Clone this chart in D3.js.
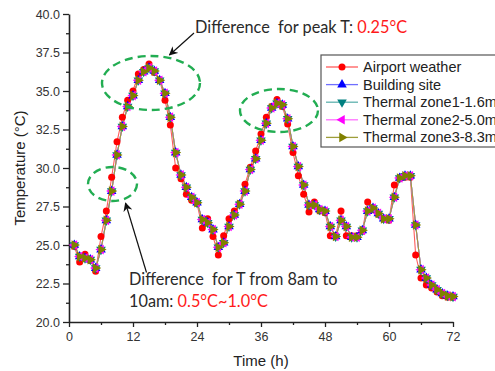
<!DOCTYPE html>
<html>
<head>
<meta charset="utf-8">
<script src="https://cdn.jsdelivr.net/npm/d3@7"></script>
<style>
  body { margin: 0; background: #fff; }
  svg { display: block; }
</style>
</head>
<body>
<div id="chart"></div>
<script>
// Hourly readings, t = 1..72 h
const hours = d3.range(1, 73)

// Airport weather station (red circles)
const airportTemp = [
  24.9, 23.9, 24.4, 24.0, 23.3, 25.55, 27.2, 29.4, 31.7, 33.3, 34.4, 35.0,
  36.1, 36.4, 36.75, 36.2, 35.7, 34.4, 32.8, 30.0, 29.3, 28.3, 27.9, 27.7,
  26.1, 26.7, 25.55, 24.35, 25.6, 26.7, 27.2, 27.7, 28.95, 30.05, 31.1, 32.2,
  33.3, 34.0, 34.45, 34.0, 32.85, 31.0, 29.5, 28.3, 27.15, 27.8, 27.2, 27.1,
  25.6, 25.6, 27.2, 25.6, 25.6, 25.6, 25.9, 27.8, 27.3, 27.0, 26.7, 26.6,
  28.9, 29.3, 29.4, 29.4, 24.35, 22.85, 22.4, 22.2, 21.95, 21.7, 21.6, 21.6
]

// Building site and the three thermal zones: the curves coincide on the chart
const siteTemp = [
  25.0, 24.25, 24.15, 24.05, 23.5, 24.7, 26.6, 28.5, 30.85, 32.7, 34.0, 34.7,
  35.7, 36.25, 36.5, 36.3, 35.7, 34.85, 33.3, 31.0, 29.55, 28.75, 28.1, 27.75,
  26.65, 26.45, 26.0, 24.85, 25.15, 26.2, 26.95, 27.65, 28.5, 29.9, 30.6, 31.8,
  32.9, 33.9, 34.2, 34.1, 33.2, 31.4, 30.1, 28.9, 27.6, 27.6, 27.3, 27.2,
  26.2, 25.55, 26.6, 26.2, 25.5, 25.5, 25.95, 27.2, 27.4, 27.05, 26.7, 26.7,
  28.1, 29.35, 29.5, 29.5, 26.3, 23.4, 22.85, 22.4, 22.1, 21.85, 21.7, 21.65
]
const zone1Temp = siteTemp
const zone2Temp = siteTemp
const zone3Temp = siteTemp

const xTicks = [0, 12, 24, 36, 48, 60, 72]
const yTicks = [20, 22.5, 25, 27.5, 30, 32.5, 35, 37.5, 40]

const width = 495
const height = 371

const svg = d3.select('#chart')
  .append('svg')
  .attr('width', width)
  .attr('height', height)
  .style('font-family', '"Liberation Sans", Arial, sans-serif')

/**
 * Scales.
 */
const x = d3.scaleLinear().domain([0, 72]).range([69, 453])
const y = d3.scaleLinear().domain([20, 40]).range([322, 14])

const tri = d3.symbol().type(d3.symbolTriangle).size(40)
const series = [
  { name: 'Airport weather', values: airportTemp, line: '#ff5c5c', fill: '#ff0000', rot: null },
  { name: 'Building site', values: siteTemp, line: '#6f6fff', fill: '#0000ff', rot: 0 },
  { name: 'Thermal zone1-1.6m', values: zone1Temp, line: '#5fb2ae', fill: '#008080', rot: 180 },
  { name: 'Thermal zone2-5.0m', values: zone2Temp, line: '#ff70ff', fill: '#ff00ff', rot: -90 },
  { name: 'Thermal zone3-8.3m', values: zone3Temp, line: '#9e9e3a', fill: '#808000', rot: 90 }
]

function drawMarker(g, s, cx, cy) {
  if (s.rot == null) {
    g.append('circle').attr('cx', cx).attr('cy', cy).attr('r', 3.5).attr('fill', s.fill)
  } else {
    g.append('path')
      .attr('d', tri)
      .attr('transform', `translate(${cx},${cy}) rotate(${s.rot})`)
      .attr('fill', s.fill)
  }
}

/**
 * Axes.
 */
const xAxis = svg.append('g')
  .attr('transform', `translate(0,${y(20)})`)
  .call(d3.axisBottom(x).tickValues(d3.range(0, 73, 6)).tickSizeInner(5).tickSizeOuter(0)
    .tickFormat(d => xTicks.includes(d) ? d : ''))
xAxis.selectAll('.tick').filter(d => !xTicks.includes(d)).select('line').attr('y2', 3)

const yAxis = svg.append('g')
  .attr('transform', `translate(${x(0)},0)`)
  .call(d3.axisLeft(y).tickValues(d3.range(20, 40.01, 1.25)).tickSizeInner(6).tickSizeOuter(0)
    .tickFormat(d => yTicks.includes(d) ? d3.format('.1f')(d) : ''))
yAxis.selectAll('.tick').filter(d => !yTicks.includes(d)).select('line').attr('x2', -3)

svg.selectAll('.domain').attr('stroke', '#222').attr('stroke-width', 1.6)
svg.selectAll('.tick line').attr('stroke', '#222').attr('stroke-width', 1.3)
svg.selectAll('.tick text').attr('fill', '#333').attr('font-size', 12.5).attr('font-family', '"Liberation Sans", Arial, sans-serif')
xAxis.selectAll('.tick text').attr('dy', '0.9em')

svg.append('text')
  .attr('x', 261).attr('y', 366)
  .attr('text-anchor', 'middle').attr('font-size', 15).attr('fill', '#222')
  .text('Time (h)')
svg.append('text')
  .attr('transform', `translate(25,${y(30)}) rotate(-90)`)
  .attr('text-anchor', 'middle').attr('font-size', 15).attr('fill', '#222')
  .text('Temperature (°C)')

/**
 * Series.
 */
const line = d3.line().x((d, i) => x(hours[i])).y(d => y(d))
series.forEach(s => {
  svg.append('path')
    .attr('d', line(s.values))
    .attr('fill', 'none')
    .attr('stroke', s.line)
    .attr('stroke-width', 1.1)
})
series.forEach(s => {
  const g = svg.append('g')
  s.values.forEach((v, i) => drawMarker(g, s, x(hours[i]), y(v)))
})

/**
 * Annotations.
 */
const green = '#22ad52'
const ellipses = [
  { cx: 151, cy: 83, rx: 49, ry: 27 },
  { cx: 279, cy: 110.5, rx: 39, ry: 21.5 },
  { cx: 112.5, cy: 184, rx: 24.5, ry: 17 }
]
svg.selectAll('.hl')
  .data(ellipses)
  .enter()
  .append('ellipse')
  .attr('cx', d => d.cx).attr('cy', d => d.cy)
  .attr('rx', d => d.rx).attr('ry', d => d.ry)
  .attr('fill', 'none')
  .attr('stroke', green)
  .attr('stroke-width', 2.4)
  .attr('stroke-dasharray', '8,5')

svg.append('defs')
  .append('marker')
  .attr('id', 'arrowhead')
  .attr('viewBox', '0 0 10 10')
  .attr('refX', 9).attr('refY', 5)
  .attr('markerWidth', 9).attr('markerHeight', 9)
  .attr('markerUnits', 'userSpaceOnUse')
  .attr('orient', 'auto')
  .append('path')
  .attr('d', 'M 0 0 L 10 5 L 0 10 L 3 5 z')
  .attr('fill', '#111')

const arrows = [
  [194, 33, 169.5, 55],
  [146.5, 272.5, 125.5, 203]
]
arrows.forEach(a => {
  svg.append('line')
    .attr('x1', a[0]).attr('y1', a[1]).attr('x2', a[2]).attr('y2', a[3])
    .attr('stroke', '#111').attr('stroke-width', 1.2)
    .attr('marker-end', 'url(#arrowhead)')
})

const annFont = 'Lato, "Open Sans", sans-serif'
const t1 = svg.append('text').attr('x', 195).attr('y', 33)
  .attr('font-family', annFont).attr('font-size', 16.3).attr('fill', '#2a2a2a')
t1.append('tspan').text('Difference  for peak T: ').attr('xml:space', 'preserve')
t1.append('tspan').attr('fill', '#ff1a1a').text('0.25°C')

svg.append('text').attr('x', 129).attr('y', 285)
  .attr('font-family', annFont).attr('font-size', 16.3).attr('fill', '#2a2a2a')
  .attr('xml:space', 'preserve')
  .text('Difference  for T from 8am to')
const t3 = svg.append('text').attr('x', 129).attr('y', 307)
  .attr('font-family', annFont).attr('font-size', 16.3).attr('fill', '#2a2a2a')
t3.append('tspan').text('10am: ')
t3.append('tspan').attr('fill', '#ff1a1a').text('0.5°C~1.0°C')

/**
 * Legend.
 */
const legend = svg.append('g').attr('transform', 'translate(321,55)')
legend.append('rect')
  .attr('x', 0).attr('y', 0).attr('width', 190).attr('height', 92)
  .attr('fill', '#fff').attr('stroke', '#555').attr('stroke-width', 1.2)
series.forEach((s, i) => {
  const ly = 12 + i * 17.6
  legend.append('line')
    .attr('x1', 5).attr('x2', 37).attr('y1', ly).attr('y2', ly)
    .attr('stroke', s.line).attr('stroke-width', 1.3)
  drawMarker(legend, s, 21, ly)
  legend.append('text')
    .attr('x', 42).attr('y', ly + 5)
    .attr('font-size', 14.5).attr('fill', '#222')
    .text(s.name)
})
</script>
</body>
</html>
